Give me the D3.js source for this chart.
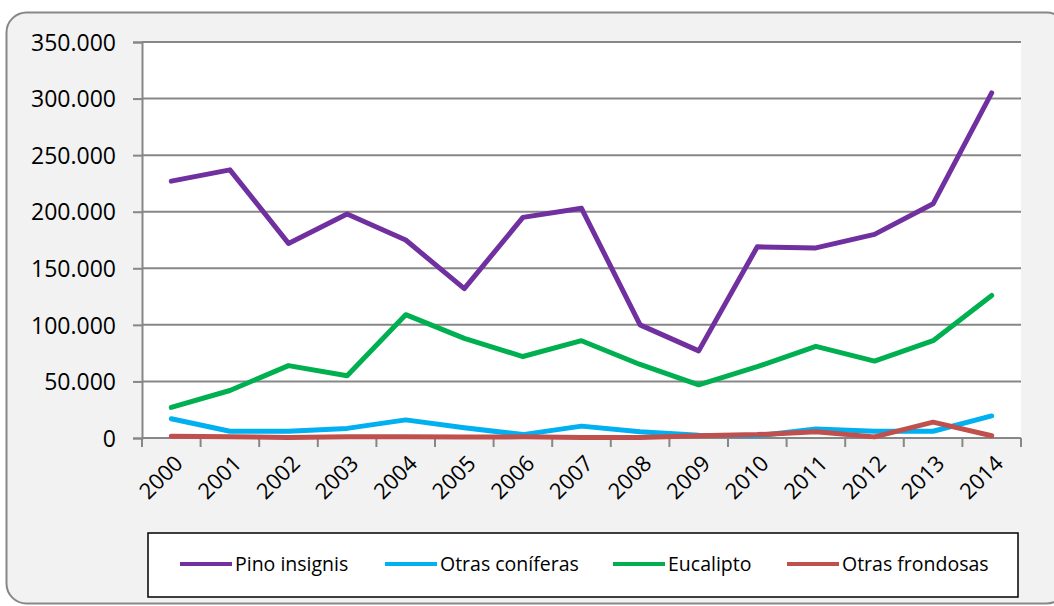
<!DOCTYPE html>
<html>
<head>
<meta charset="utf-8">
<script src="https://cdn.jsdelivr.net/npm/d3@7"></script>
<style>
  body { margin: 0; background: #fff; }
  svg { display: block; font-family: "Open Sans", "DejaVu Sans", sans-serif; }
</style>
</head>
<body>
<svg id="chart" width="1054" height="606"></svg>
<script>
const years = ["2000","2001","2002","2003","2004","2005","2006","2007","2008","2009","2010","2011","2012","2013","2014"];
const pinoInsignis = [227000, 237000, 172000, 198000, 175000, 132000, 195000, 203000, 100000, 77000, 169000, 168000, 180000, 207000, 305000];
const otrasConiferas = [17000, 6000, 6000, 8500, 16000, 9000, 3000, 10500, 5500, 2500, 2000, 8000, 6000, 6000, 19500];
const eucalipto = [27000, 42000, 64000, 55000, 109000, 88000, 72000, 86000, 65000, 47000, 63000, 81000, 68000, 86000, 126000];
const otrasFrondosas = [1500, 1000, 500, 1000, 1000, 800, 1000, 500, 500, 2000, 3000, 5500, 1000, 14000, 2000];
const yTicks = [0, 50000, 100000, 150000, 200000, 250000, 300000, 350000];

const seriesNames = ["Pino insignis", "Otras coníferas", "Eucalipto", "Otras frondosas"];
const seriesColors = ["#7030A0", "#00B0F0", "#00B050", "#C0504D"];
const seriesData = [pinoInsignis, otrasConiferas, eucalipto, otrasFrondosas];

const svg = d3.select("#chart");
const plot = { left: 142, right: 1021, top: 42, bottom: 438 };

// outer frame
svg.append("rect")
  .attr("x", 6.5).attr("y", 12.5)
  .attr("width", 1060).attr("height", 591)
  .attr("rx", 20)
  .attr("fill", "#f2f2f2")
  .attr("stroke", "#878787")
  .attr("stroke-width", 2);

svg.append("rect")
  .attr("x", plot.left).attr("y", plot.top)
  .attr("width", plot.right - plot.left).attr("height", plot.bottom - plot.top)
  .attr("fill", "#ffffff");

const x = d3.scaleBand().domain(years).range([plot.left, plot.right]);
const y = d3.scaleLinear().domain([0, 350000]).range([plot.bottom, plot.top]);

const fmt = v => d3.format(",")(v).replace(/,/g, ".");

// gridlines + y axis
const yAxis = svg.append("g")
  .attr("transform", `translate(${plot.left},0)`)
  .call(d3.axisLeft(y).tickValues(yTicks).tickSize(9).tickPadding(17).tickFormat(fmt));
yAxis.select(".domain").attr("stroke", "#878787").attr("stroke-width", 2);
yAxis.selectAll(".tick line").attr("stroke", "#878787").attr("stroke-width", 2);
yAxis.selectAll(".tick text")
  .attr("fill", "#000")
  .style("font-family", "'Open Sans', sans-serif")
  .style("font-size", "23px")
  .attr("dy", "0.36em");

svg.append("g")
  .selectAll("line")
  .data(yTicks.filter(d => d > 0))
  .join("line")
  .attr("x1", plot.left).attr("x2", plot.right)
  .attr("y1", d => y(d)).attr("y2", d => y(d))
  .attr("stroke", "#878787").attr("stroke-width", 2);

// x axis with ticks at category boundaries
const boundaries = years.map(d => x(d)).concat([plot.right]);
const xAxis = svg.append("g");
xAxis.append("line")
  .attr("x1", plot.left).attr("x2", plot.right)
  .attr("y1", plot.bottom).attr("y2", plot.bottom)
  .attr("stroke", "#878787").attr("stroke-width", 2);
xAxis.selectAll(".bt")
  .data(boundaries)
  .join("line")
  .attr("class", "bt")
  .attr("x1", d => d).attr("x2", d => d)
  .attr("y1", plot.bottom).attr("y2", plot.bottom + 9)
  .attr("stroke", "#878787").attr("stroke-width", 2);
xAxis.selectAll("text")
  .data(years)
  .join("text")
  .attr("transform", d => `translate(${x(d) + x.bandwidth() / 2 + 2},${plot.bottom + 16}) rotate(-45)`)
  .attr("text-anchor", "end")
  .attr("dy", "0.7em")
  .style("font-size", "22px")
  .attr("fill", "#000")
  .text(d => d);

// lines
const line = d3.line()
  .x((d, i) => x(years[i]) + x.bandwidth() / 2)
  .y(d => y(d));

svg.append("g")
  .selectAll("path")
  .data(seriesData)
  .join("path")
  .attr("d", d => line(d))
  .attr("fill", "none")
  .attr("stroke", (d, i) => seriesColors[i])
  .attr("stroke-width", 5)
  .attr("stroke-linejoin", "round")
  .attr("stroke-linecap", "round");

// legend
const legend = svg.append("g");
legend.append("rect")
  .attr("x", 148).attr("y", 533)
  .attr("width", 870).attr("height", 64)
  .attr("fill", "#fff")
  .attr("stroke", "#000").attr("stroke-width", 1.5);

const legendX = [180, 385, 613, 787];
seriesNames.forEach((name, i) => {
  const g = legend.append("g").attr("transform", `translate(${legendX[i]},564)`);
  g.append("line")
    .attr("x1", 0).attr("x2", 52)
    .attr("stroke", seriesColors[i]).attr("stroke-width", 4);
  g.append("text")
    .attr("x", 55).attr("dy", "0.35em")
    .style("font-size", "19.5px")
    .attr("fill", "#000")
    .text(name);
});
</script>
</body>
</html>
